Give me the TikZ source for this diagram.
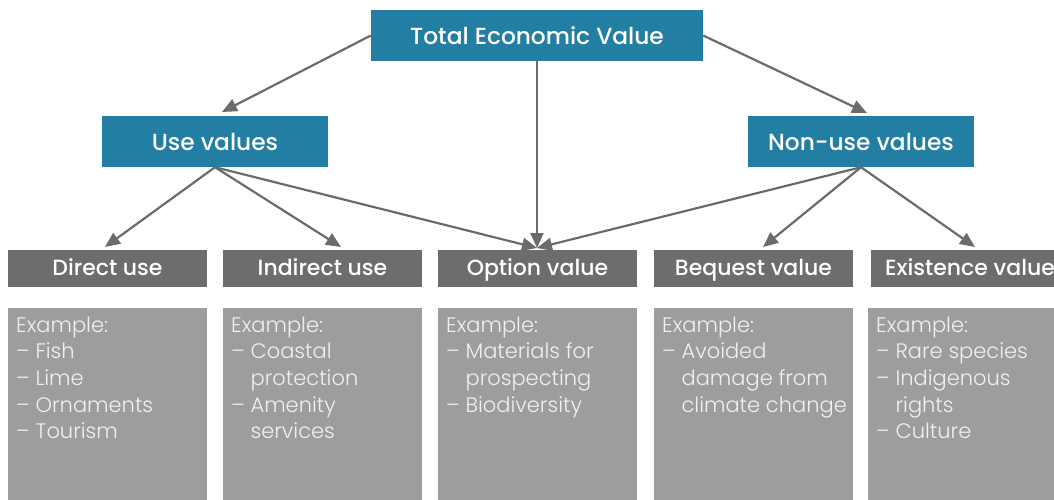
\documentclass[tikz,border=0pt]{standalone}
\usepackage{fontspec}
\setmainfont{Poppins}
\newfontfamily\headfont{Poppins Medium}
\newfontfamily\bodyfont{Poppins Light}
\usetikzlibrary{arrows.meta}
\definecolor{tevblue}{HTML}{237EA4}
\definecolor{headgray}{HTML}{6D6D6D}
\definecolor{bodygray}{HTML}{9D9D9D}
\definecolor{linegray}{HTML}{6B6B6B}
\definecolor{bodytext}{HTML}{F0F0F0}
\begin{document}
\begin{tikzpicture}[x=1pt,y=-1pt]

    \tikzset{bluebox/.style={fill=tevblue,text=white,minimum height=51pt,inner sep=0pt,text height=20pt,text depth=2pt,font=\headfont\fontsize{23.3}{26}\selectfont},
             headbox/.style={fill=headgray,text=white,minimum width=199pt,minimum height=37pt,inner sep=0pt,text height=16pt,text depth=2pt,font=\headfont\fontsize{22}{24}\selectfont},
             examplebox/.style={fill=bodygray,minimum width=199pt,minimum height=200pt,inner sep=0pt,anchor=north west},
             exampletext/.style={text=bodytext,anchor=north west,align=left,inner sep=0pt,font=\bodyfont\fontsize{21}{26.6}\selectfont},
             arrow/.style={draw=linegray,line width=2.2pt,-{Triangle[length=15pt,width=13pt]}}}

    \useasboundingbox (0,0) rectangle (1054,500);

    \node[bluebox,minimum width=332pt] (tev) at ( 537, 35.5) {Total Economic Value};
    \node[bluebox,minimum width=226pt] (use) at ( 215, 141.5) {Use values};
    \node[bluebox,minimum width=226pt] (nonuse) at ( 861, 141.5) {Non-use values};

    \node[headbox] (direct) at ( 107.5, 268.5) {Direct use};
    \node[headbox] (indirect) at ( 322.5, 268.5) {Indirect use};
    \node[headbox] (option) at ( 537.5, 268.5) {Option value};
    \node[headbox] (bequest) at ( 753.5, 268.5) {Bequest value};
    \node[headbox] (existence) at ( 970, 268.5) {Existence value};

    \node[examplebox] (b1) at ( 8, 308) {};
    \node[examplebox] (b2) at ( 223, 308) {};
    \node[examplebox] (b3) at ( 438, 308) {};
    \node[examplebox] (b4) at ( 654, 308) {};
    \node[examplebox] (b5) at ( 868, 308) {};

    \node[exampletext] (t1) at ( 16, 316.5) {Example:\\– Fish\\– Lime\\– Ornaments\\– Tourism};
    \node[exampletext] (t2) at ( 231, 316.5) {Example:\\– Coastal\\\phantom{– }protection\\– Amenity\\\phantom{– }services};
    \node[exampletext] (t3) at ( 446, 316.5) {Example:\\– Materials for\\\phantom{– }prospecting\\– Biodiversity};
    \node[exampletext] (t4) at ( 662, 316.5) {Example:\\– Avoided\\\phantom{– }damage from\\\phantom{– }climate change};
    \node[exampletext] (t5) at ( 876, 316.5) {Example:\\– Rare species\\– Indigenous\\\phantom{– }rights\\– Culture};

    % Artificial end points just above the gray headers.
    \coordinate (e1) at ( 105, 247);
    \coordinate (e2) at ( 341, 247);
    \coordinate (e3) at ( 537, 248);
    \coordinate (e4) at ( 763, 247);
    \coordinate (e5) at ( 975, 247);
    \coordinate (eu) at ( 222, 112);
    \coordinate (en) at ( 867, 113);

    \draw[arrow] (tev.west) -- (eu);
    \draw[arrow] (tev.east) -- (en);
    \draw[arrow] (tev.south) -- (e3);

    \draw[arrow] (use.south) -- (e1);
    \draw[arrow] (use.south) -- (e2);
    \draw[arrow] (use.south) -- (e3);

    \draw[arrow] (nonuse.south) -- (e3);
    \draw[arrow] (nonuse.south) -- (e4);
    \draw[arrow] (nonuse.south) -- (e5);

\end{tikzpicture}
\end{document}
